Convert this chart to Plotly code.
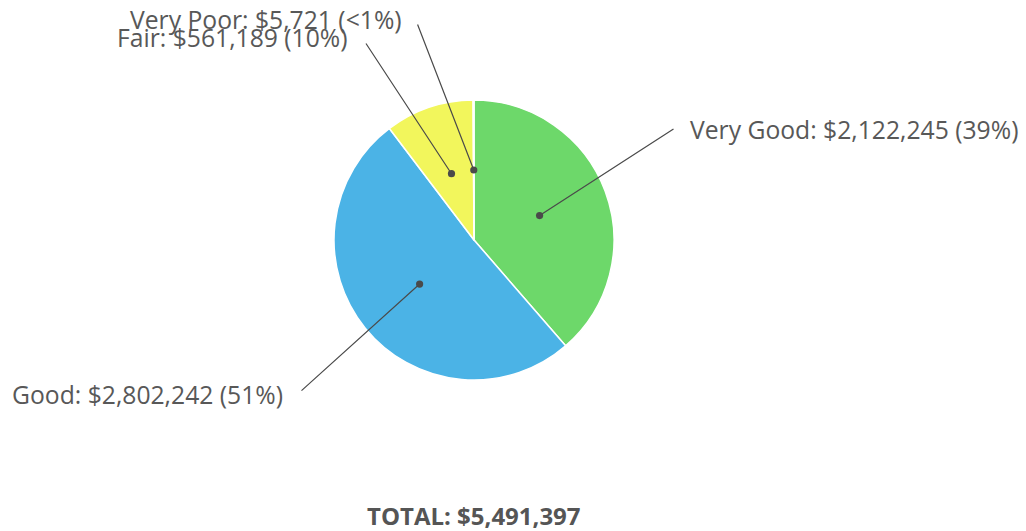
import math
import plotly.graph_objects as go

# Portfolio value by condition rating
categories = ["Very Good", "Good", "Fair", "Very Poor"]
values = [2122245, 2802242, 561189, 5721]
pct_labels = ["39%", "51%", "10%", "<1%"]
colors = ["#6dd86a", "#4bb3e6", "#f2f65c", "#f7dfc3"]

W, H = 1026, 531
CX, CY, R = 474, 240, 140  # pie centre and radius in pixels

# label anchor points (pixels) and leader-line start points
label_pos = {
    "Very Good": dict(x=688, y=129, xanchor="left"),
    "Good": dict(x=285, y=394, xanchor="right"),
    "Fair": dict(x=350, y=38, xanchor="right"),
    "Very Poor": dict(x=404, y=19, xanchor="right"),
}
line_tail = {
    "Very Good": (675, 128),
    "Good": (300, 392),
    "Fair": (365, 42),
    "Very Poor": (417, 23),
}

total = sum(values)

fig = go.Figure(
    go.Pie(
        labels=categories,
        values=values,
        sort=False,
        direction="clockwise",
        rotation=0,
        marker=dict(colors=colors, line=dict(color="white", width=1.5)),
        textinfo="none",
        hoverinfo="label+value+percent",
        showlegend=False,
        domain=dict(
            x=[(CX - R) / W, (CX + R) / W],
            y=[1 - (CY + R) / H, 1 - (CY - R) / H],
        ),
    )
)

font = dict(family="Open Sans", size=24.7, color="#585858")
annotations = []
cum = 0
for name, v, p in zip(categories, values, pct_labels):
    mid = (cum + v / 2) / total * 2 * math.pi
    cum += v
    dx = CX + 0.5 * R * math.sin(mid)
    dy = CY - 0.5 * R * math.cos(mid)
    tx, ty = line_tail[name]
    annotations.append(dict(
        x=dx / W, y=1 - dy / H, xref="paper", yref="paper",
        text="", showarrow=True, arrowhead=6, arrowsize=1.5,
        arrowwidth=1.2, arrowcolor="#4a4a4a",
        ax=tx - dx, ay=ty - dy, axref="pixel", ayref="pixel",
    ))
    lp = label_pos[name]
    annotations.append(dict(
        x=lp["x"] / W, y=1 - lp["y"] / H, xref="paper", yref="paper",
        xanchor=lp["xanchor"], yanchor="middle", showarrow=False,
        text=f"{name}: ${v:,} ({p})", font=font,
    ))

annotations.append(dict(
    x=CX / W, y=1 - 515 / H, xref="paper", yref="paper",
    xanchor="center", yanchor="middle", showarrow=False,
    text=f"<b>TOTAL: ${total:,}</b>",
    font=dict(family="Open Sans", size=24, color="#555555"),
))

fig.update_layout(
    width=W, height=H,
    margin=dict(l=0, r=0, t=0, b=0),
    paper_bgcolor="white", plot_bgcolor="white",
    annotations=annotations,
)

fig.write_html("out.html")
